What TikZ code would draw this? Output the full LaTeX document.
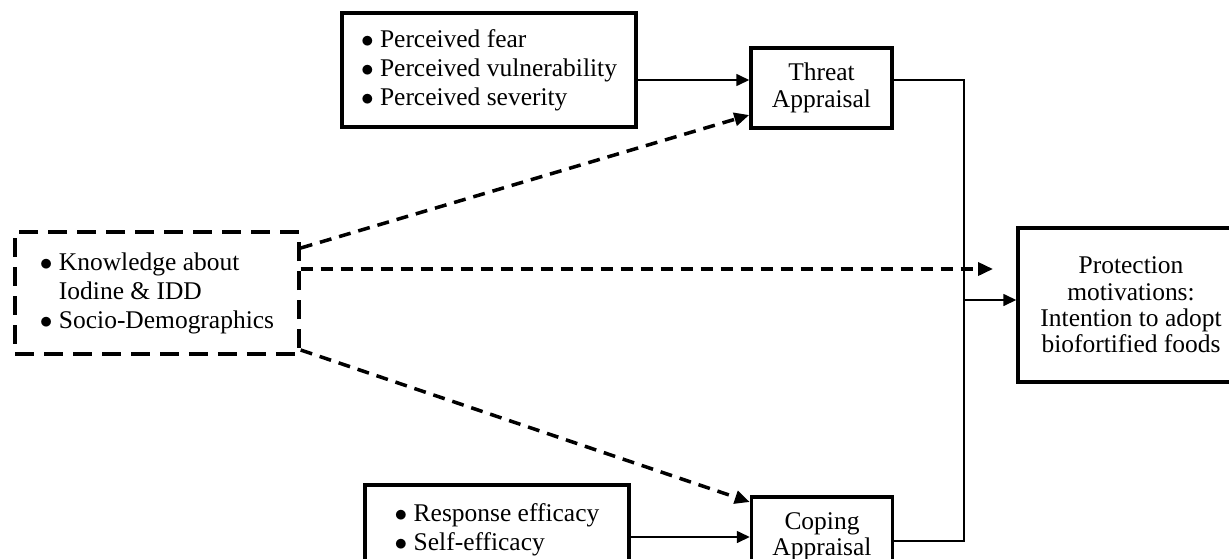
\documentclass[tikz,border=0pt]{standalone}
\usepackage{fontspec}
\setmainfont{Liberation Serif}
\usetikzlibrary{arrows.meta,positioning}
\newcommand{\bul}{$\bullet$\ }

\begin{document}
\begin{tikzpicture}[x=0.02cm,y=-0.02cm,
    font=\fontsize{14.5}{16.5}\selectfont,
    box/.style={draw,line width=2pt,inner sep=0pt},
    dbox/.style={box,dash pattern=on 0.38cm off 0.2cm},
    tight/.style={font=\fontsize{14.5}{15}\selectfont},
    flow/.style={line width=0.9pt,-{Triangle[length=2.6mm,width=2.4mm]}},
    dflow/.style={line width=2pt,dash pattern=on 0.24cm off 0.16cm,-{Triangle[length=3mm,width=2.6mm]}}]
  \useasboundingbox (0,0) rectangle (1229,558);
  % boxes
  \node[box,minimum width=5.88cm,minimum height=2.28cm,align=left] (perc) at (489,70)
    {\bul Perceived fear\\ \bul Perceived vulnerability\\ \bul Perceived severity};
  \node[box,tight,minimum width=2.82cm,minimum height=1.6cm,align=center] (threat) at (821.5,88)
    {Threat\\ Appraisal};
  \node[dbox,minimum width=5.68cm,minimum height=2.44cm,align=left] (know) at (157,293)
    {\bul Knowledge about\\ \phantom{\bul}Iodine \& IDD\\ \bul Socio-Demographics};
  \node[box,tight,minimum width=4.52cm,minimum height=3.08cm,align=center] (prot) at (1131,305)
    {Protection\\ motivations:\\ Intention to adopt\\ biofortified foods};
  \node[box,minimum width=5.28cm,minimum height=2.28cm,align=left] (resp) at (497,542)
    {\bul Response efficacy\\ \bul Self-efficacy\\ \mbox{}};
  \node[box,tight,minimum width=2.82cm,minimum height=1.6cm,align=center] (coping) at (822,537)
    {Coping\\ Appraisal};
  \coordinate (bus) at (964,300);
  \coordinate (dashend) at (993,269);
  % solid links
  \draw[flow] (perc.east |- 0,80) -- (threat.west |- 0,80);
  \draw[flow] (resp.east |- 0,537) -- (coping.west |- 0,537);
  \draw[line width=0.9pt] (threat.east |- 0,80) -| (bus) |- (coping.east |- 0,541);
  \draw[flow] (bus) -- (bus -| prot.west);
  % dashed links
  \draw[dflow] (know.east |- 0,248) -- (threat.west |- 0,115);
  \draw[dflow] (know.east |- 0,269) -- (dashend);
  \draw[dflow] (know.east |- 0,350) -- (coping.west |- 0,502);
\end{tikzpicture}
\end{document}
